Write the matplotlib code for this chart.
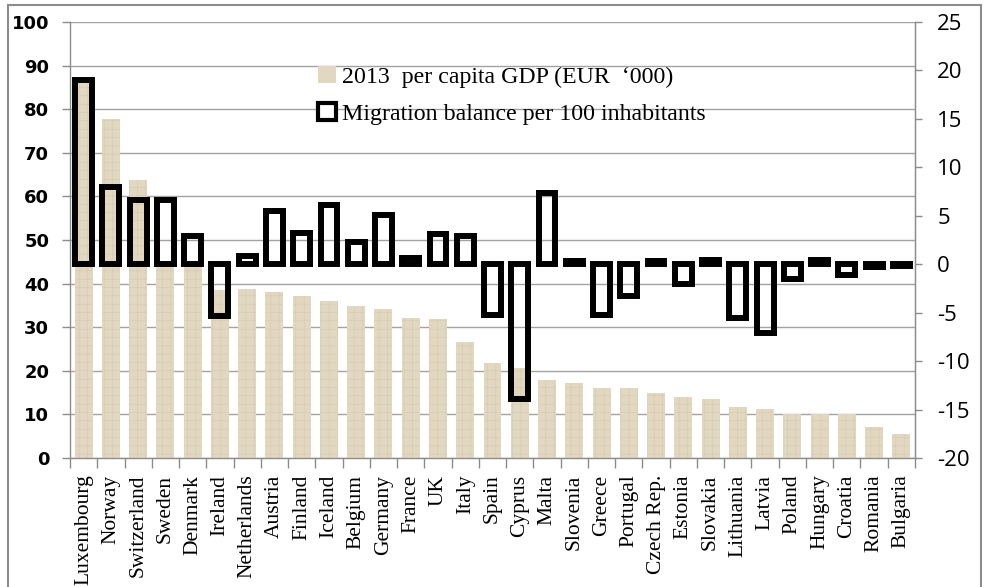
import matplotlib
matplotlib.use("Agg")
import matplotlib.pyplot as plt
from matplotlib.patches import Patch, Rectangle
from matplotlib.ticker import FixedLocator, MultipleLocator

countries = ["Luxembourg", "Norway", "Switzerland", "Sweden", "Denmark", "Ireland",
             "Netherlands", "Austria", "Finland", "Iceland", "Belgium", "Germany",
             "France", "UK", "Italy", "Spain", "Cyprus", "Malta", "Slovenia", "Greece",
             "Portugal", "Czech Rep.", "Estonia", "Slovakia", "Lithuania", "Latvia",
             "Poland", "Hungary", "Croatia", "Romania", "Bulgaria"]

gdp_per_capita = [87.0, 77.8, 63.8, 44.8, 44.5, 38.6, 38.8, 38.0, 37.2, 35.9, 34.9, 34.2,
                  32.1, 31.9, 26.7, 21.9, 20.6, 17.9, 17.3, 16.1, 16.1, 14.8, 14.1, 13.5,
                  11.8, 11.2, 10.1, 10.1, 10.1, 7.2, 5.5]

migration_balance = [19.0, 8.0, 6.6, 6.6, 2.9, -5.3, 0.85, 5.5, 3.2, 6.1, 2.3, 5.1,
                     0.6, 3.1, 2.9, -5.2, -13.9, 7.4, 0.3, -5.2, -3.3, 0.35, -2.0, 0.4,
                     -5.6, -7.1, -1.5, 0.4, -1.1, -0.3, -0.2]

gdp_label = "2013  per capita GDP (EUR  \u2018000)"
mig_label = "Migration balance per 100 inhabitants"

W, H = 985, 587
plt.rcParams["hatch.linewidth"] = 0.4
plt.rcParams["axes.unicode_minus"] = False

fig = plt.figure(figsize=(W / 100, H / 100), dpi=100)
ax = fig.add_axes([70 / W, 1 - 458 / H, 845 / W, 436 / H])

x = list(range(len(countries)))
beige = "#e2d8c1"
ax.bar(x, gdp_per_capita, width=0.66, color=beige, edgecolor="#d6caae",
       linewidth=0, hatch="++", zorder=2)

ax.set_xlim(-0.5, len(countries) - 0.5)
ax.set_ylim(0, 100)
ax.yaxis.set_major_locator(MultipleLocator(10))
ax.set_axisbelow(True)
ax.grid(axis="y", color="#a3a3a3", linewidth=1.0)
ax.grid(axis="x", visible=False)

grey = "#8c8c8c"
for side in ["left", "bottom", "right"]:
    ax.spines[side].set_color(grey)
    ax.spines[side].set_linewidth(1.0)
ax.spines["top"].set_visible(False)

ax.tick_params(axis="y", direction="out", length=6, width=1, color=grey, pad=9,
               labelsize=13)
for lbl in ax.get_yticklabels():
    lbl.set_fontweight("bold")
    lbl.set_family("DejaVu Sans")

ax.set_xticks(x)
ax.set_xticklabels(countries, rotation=90, fontsize=15.5, family="Liberation Serif",
                   ha="center", va="top")
ax.xaxis.set_minor_locator(FixedLocator([i - 0.5 for i in range(len(countries) + 1)]))
ax.tick_params(axis="x", which="major", length=0, pad=12)
ax.tick_params(axis="x", which="minor", direction="out", length=7, width=1, color=grey)

ax2 = ax.twinx()
ax2.bar(x, migration_balance, width=0.62, facecolor="none", edgecolor="black",
        linewidth=4.3, zorder=3)
ax2.set_ylim(-20, 25)
ax2.yaxis.set_major_locator(MultipleLocator(5))
for side in ["left", "bottom", "top"]:
    ax2.spines[side].set_visible(False)
ax2.spines["right"].set_color(grey)
ax2.tick_params(axis="y", direction="out", length=5, width=1, color=grey, pad=11,
                labelsize=16)
for lbl in ax2.get_yticklabels():
    lbl.set_family("Open Sans")

handles = [Patch(facecolor=beige, edgecolor="none"),
           Patch(facecolor="white", edgecolor="black", linewidth=3.0)]
fig.legend(handles, [gdp_label, mig_label], loc="upper left",
           bbox_to_anchor=(318 / W, 1 - 66 / H), frameon=False,
           prop={"family": "Liberation Serif", "size": 17.2},
           handlelength=0.75, handleheight=0.75, handletextpad=0.25,
           labelspacing=0.62, borderpad=0, borderaxespad=0)

fig.patches.append(Rectangle((8 / W, -0.05), (981 - 8) / W, 1.05 - 5 / H,
                             transform=fig.transFigure, fill=False,
                             edgecolor="#8c8c8c", linewidth=1.5))

fig.savefig("out.png", dpi=100, facecolor="white")
